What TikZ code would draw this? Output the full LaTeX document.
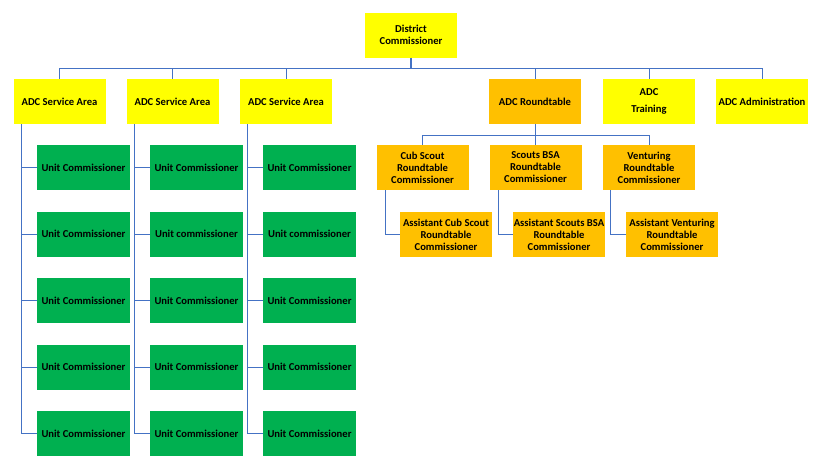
\documentclass[tikz,border=0pt]{standalone}
\usepackage{fontspec}
\setmainfont{Carlito}
\usetikzlibrary{arrows,shapes}
\definecolor{jaune}{HTML}{FFFF00}
\definecolor{orange}{HTML}{FFC000}
\definecolor{vert}{HTML}{00B050}
\definecolor{ligne}{HTML}{4472C4}

\begin{document}
\begin{tikzpicture}[x=1pt,y=-1pt]
        \useasboundingbox (0,0) rectangle (818,472);
        \tikzset{boite/.style={minimum width=92pt,minimum height=45pt,inner sep=0pt,align=center,font=\bfseries\fontsize{10.6}{12}\selectfont}}
        \tikzset{trait/.style={draw=ligne,line width=1pt}}
        % top level
        \node[boite,fill=jaune] (DC) at (411,35) {District\\Commissioner};
        \node[boite,fill=jaune] (SA1) at (59.5,101.5) {ADC Service Area};
        \node[boite,fill=jaune] (SA2) at (172.5,101.5) {ADC Service Area};
        \node[boite,fill=jaune] (SA3) at (286,101.5) {ADC Service Area};
        \node[boite,fill=orange] (RT) at (535,101.5) {ADC Roundtable};
        \node[boite,fill=jaune] (TR) at (649,101.5) {ADC\\[4.5pt]Training};
        \node[boite,fill=jaune] (AD) at (762,101.5) {ADC Administration};
        % roundtable
        \node[boite,fill=orange] (CS) at (422.5,167.5) {Cub Scout\\Roundtable\\Commissioner};
        \node[boite,fill=orange] (SB) at (535.5,167.5) {Scouts BSA\\Roundtable\\Commissioner};
        \node[boite,fill=orange] (VE) at (649,167.5) {Venturing\\Roundtable\\Commissioner};
        \node[boite,fill=orange] (ACS) at (446,234.5) {Assistant Cub Scout\\Roundtable\\Commissioner};
        \node[boite,fill=orange] (ASB) at (559,234.5) {Assistant Scouts BSA\\Roundtable\\Commissioner};
        \node[boite,fill=orange] (AVE) at (672,234.5) {Assistant Venturing\\Roundtable\\Commissioner};
        % unit commissioners
        \node[boite,fill=vert,minimum width=93pt] (U11) at (83.5,167.5) {Unit Commissioner};
        \node[boite,fill=vert,minimum width=93pt] (U12) at (83.5,234) {Unit Commissioner};
        \node[boite,fill=vert,minimum width=93pt] (U13) at (83.5,300.5) {Unit Commissioner};
        \node[boite,fill=vert,minimum width=93pt] (U14) at (83.5,367) {Unit Commissioner};
        \node[boite,fill=vert,minimum width=93pt] (U15) at (83.5,433.5) {Unit Commissioner};
        \node[boite,fill=vert,minimum width=93pt] (U21) at (196.5,167.5) {Unit Commissioner};
        \node[boite,fill=vert,minimum width=93pt] (U22) at (196.5,234) {Unit commissioner};
        \node[boite,fill=vert,minimum width=93pt] (U23) at (196.5,300.5) {Unit Commissioner};
        \node[boite,fill=vert,minimum width=93pt] (U24) at (196.5,367) {Unit Commissioner};
        \node[boite,fill=vert,minimum width=93pt] (U25) at (196.5,433.5) {Unit Commissioner};
        \node[boite,fill=vert,minimum width=93pt] (U31) at (309.5,167.5) {Unit Commissioner};
        \node[boite,fill=vert,minimum width=93pt] (U32) at (309.5,234) {Unit commissioner};
        \node[boite,fill=vert,minimum width=93pt] (U33) at (309.5,300.5) {Unit Commissioner};
        \node[boite,fill=vert,minimum width=93pt] (U34) at (309.5,367) {Unit Commissioner};
        \node[boite,fill=vert,minimum width=93pt] (U35) at (309.5,433.5) {Unit Commissioner};
        % connectors
        \draw[trait,line width=1.6pt] (DC.south) -- ++(0,11) coordinate (B);
        \draw[trait] (B) -| (SA1.north);
        \draw[trait] (B) -| (SA2.north);
        \draw[trait] (B) -| (SA3.north);
        \draw[trait] (B) -| (RT.north);
        \draw[trait] (B) -| (TR.north);
        \draw[trait] (B) -| (AD.north);
        \draw[trait] (RT.south) -- ++(0,11) coordinate (R);
        \draw[trait] (R) -| (CS.north);
        \draw[trait] (R) -| (SB.north);
        \draw[trait] (R) -| (VE.north);
        \draw[trait] ([xshift=9pt]CS.south west) |- (ACS.west);
        \draw[trait] ([xshift=9pt]SB.south west) |- (ASB.west);
        \draw[trait] ([xshift=8pt]VE.south west) |- (AVE.west);
        \draw[trait] ([xshift=8pt]SA1.south west) |- (U11.west);
        \draw[trait] ([xshift=8pt]SA1.south west) |- (U12.west);
        \draw[trait] ([xshift=8pt]SA1.south west) |- (U13.west);
        \draw[trait] ([xshift=8pt]SA1.south west) |- (U14.west);
        \draw[trait] ([xshift=8pt]SA1.south west) |- (U15.west);
        \draw[trait] ([xshift=8pt]SA2.south west) |- (U21.west);
        \draw[trait] ([xshift=8pt]SA2.south west) |- (U22.west);
        \draw[trait] ([xshift=8pt]SA2.south west) |- (U23.west);
        \draw[trait] ([xshift=8pt]SA2.south west) |- (U24.west);
        \draw[trait] ([xshift=8pt]SA2.south west) |- (U25.west);
        \draw[trait] ([xshift=8pt]SA3.south west) |- (U31.west);
        \draw[trait] ([xshift=8pt]SA3.south west) |- (U32.west);
        \draw[trait] ([xshift=8pt]SA3.south west) |- (U33.west);
        \draw[trait] ([xshift=8pt]SA3.south west) |- (U34.west);
        \draw[trait] ([xshift=8pt]SA3.south west) |- (U35.west);
\end{tikzpicture}
\end{document}
